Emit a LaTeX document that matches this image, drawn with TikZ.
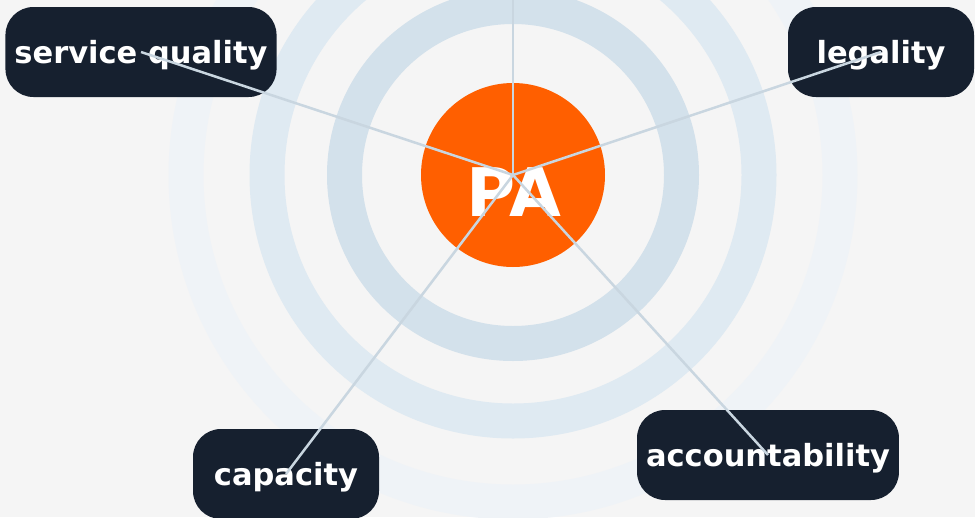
\documentclass[tikz,border=0pt]{standalone}
\usepackage{fontspec}
\setmainfont{DejaVu Sans}
\usetikzlibrary{positioning}
\definecolor{bgcol}{HTML}{F5F5F5}
\definecolor{ringa}{HTML}{D3E1EB}
\definecolor{ringb}{HTML}{DFEAF2}
\definecolor{ringc}{HTML}{EFF3F7}
\definecolor{hubcol}{HTML}{FF5F00}
\definecolor{boxcol}{HTML}{16202F}
\definecolor{spoke}{HTML}{C9D6E0}

\begin{document}
\begin{tikzpicture}[x=1pt, y=-1pt,
    label/.style = {fill=boxcol, text=white, rounded corners=28pt, minimum width=186pt,
        minimum height=90pt, inner xsep=9pt, text height=22pt, text depth=0pt,
        font=\fontsize{30.5}{30}\selectfont\bfseries},
    ring/.style = {line width=35pt},
    link/.style = {spoke, line width=2.5pt}]
    \useasboundingbox (0,0) rectangle (975,517);
    \clip (0,0) rectangle (975,517);
    \fill[bgcol] (0,0) rectangle (975,517);

    % rings round the hub
    \draw[ring, ringc] (513,175) circle (327);
    \draw[ring, ringb] (513,175) circle (246);
    \draw[ring, ringa] (513,175) circle (168.5);

    \node[circle, fill=hubcol, minimum size=184pt, inner sep=0pt] (hub) at (513,175) {};
    \node[text=white, font=\fontsize{67}{67}\selectfont\bfseries] (pa) at (514,192) {PA};
    \coordinate (top) at (513,-200);

    \node[label] (sq) at (141,52) {service quality};
    \node[label] (leg) at (881,52) {legality};
    \node[label] (cap) at (286,474) {capacity};
    \node[label] (acc) at (768,455) {accountability};

    \draw[link] (hub.center) -- (top);
    \draw[link] (hub.center) -- (sq.center);
    \draw[link] (hub.center) -- (leg.center);
    \draw[link] (hub.center) -- (cap.center);
    \draw[link] (hub.center) -- (acc.center);
\end{tikzpicture}
\end{document}
